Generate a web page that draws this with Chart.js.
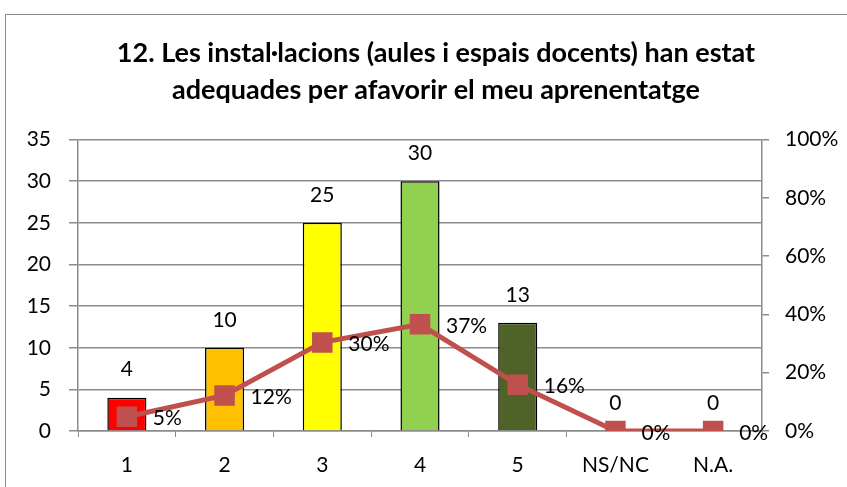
<!DOCTYPE html>
<html>
<head>
<meta charset="utf-8">
<script src="https://cdn.jsdelivr.net/npm/chart.js@4"></script>
<style>
  html, body { margin: 0; padding: 0; background: #fff; overflow: hidden; }
  #wrap {
    position: absolute; left: 5px; top: 14px;
    width: 860px; height: 490px;
    border: 1.5px solid #8c8c8c; box-sizing: border-box;
  }
  canvas { display: block; }
</style>
</head>
<body>
<div id="wrap"><canvas id="chart1" width="860" height="490"></canvas></div>
<script>
// Dades llegides del gràfic
const categories = ["1", "2", "3", "4", "5", "NS/NC", "N.A."];
const respostes = [4, 10, 25, 30, 13, 0, 0];
const percentatges = [4.9, 12.2, 30.4, 36.6, 15.9, 0, 0];
const barColors = ["#FF0000", "#FFC000", "#FFFF00", "#92D050", "#4F6228", "#4F6228", "#4F6228"];
const titleLines = ["12. Les instal·lacions (aules i espais docents) han estat",
                    "adequades per afavorir el meu aprenentatge"];

const FONT = "Lato, 'Open Sans', sans-serif";
const GRID = "#8c8c8c";

// Etiquetes de valors (no hi ha plugin de datalabels)
const valueLabels = {
    id: 'valueLabels',
    afterDatasetsDraw(chart) {
        const ctx = chart.ctx;
        ctx.save();
        ctx.font = "21px " + FONT;
        ctx.fillStyle = "#000";
        ctx.textBaseline = "middle";
        // barres
        const barMeta = chart.getDatasetMeta(0);
        barMeta.data.forEach((bar, i) => {
            ctx.textAlign = "center";
            ctx.fillText(String(respostes[i]), bar.x, bar.y - 28);
        });
        // línia
        const lineMeta = chart.getDatasetMeta(1);
        lineMeta.data.forEach((pt, i) => {
            ctx.textAlign = "left";
            ctx.fillText(Math.round(percentatges[i]) + "%", pt.x + 26, pt.y + 2);
        });
        ctx.restore();
    }
};

const ctx = document.getElementById('chart1').getContext('2d');
new Chart(ctx, {
    data: {
        labels: categories,
        datasets: [
            {
                type: 'bar',
                data: respostes,
                backgroundColor: barColors,
                borderColor: "#000",
                borderWidth: 1.5,
                barPercentage: 0.4,
                categoryPercentage: 1,
                yAxisID: 'y',
                order: 2
            },
            {
                type: 'line',
                data: percentatges,
                borderColor: "#C0504D",
                backgroundColor: "#C0504D",
                borderWidth: 5,
                pointStyle: 'rect',
                pointRadius: 14.5,
                pointBorderWidth: 0,
                yAxisID: 'y2',
                order: 1
            }
        ]
    },
    options: {
        responsive: false,
        animation: false,
        layout: { padding: 0 },
        plugins: {
            legend: { display: false },
            tooltip: { enabled: false },
            title: {
                display: true,
                text: titleLines,
                color: "#000",
                font: { family: FONT, size: 27, weight: 'bold', lineHeight: 1.4 },
                padding: { top: 19, bottom: 30 }
            }
        },
        scales: {
            x: {
                offset: true,
                grid: { display: true, drawOnChartArea: false, drawTicks: true, tickLength: 6, color: GRID, offset: true },
                border: { display: true, color: GRID, width: 1.5 },
                ticks: { color: "#000", font: { family: FONT, size: 21 }, padding: 16 },
                afterFit(s) { s.height = 74; }
            },
            y: {
                position: 'left',
                min: 0, max: 35,
                ticks: { stepSize: 5, color: "#000", font: { family: FONT, size: 21 }, padding: 18 },
                grid: { color: GRID, lineWidth: 1.5, tickLength: 9 },
                border: { display: true, color: GRID, width: 1.5 },
                afterFit(s) { s.width = 72; }
            },
            y2: {
                position: 'right',
                min: 0, max: 100,
                ticks: { stepSize: 20, color: "#000", font: { family: FONT, size: 21 }, padding: 16,
                         callback: v => v + "%" },
                grid: { drawOnChartArea: false, color: GRID, lineWidth: 1.5, tickLength: 7 },
                border: { display: true, color: GRID, width: 1.5 },
                afterFit(s) { s.width = 104; }
            }
        }
    },
    plugins: [valueLabels]
});
</script>
</body>
</html>
